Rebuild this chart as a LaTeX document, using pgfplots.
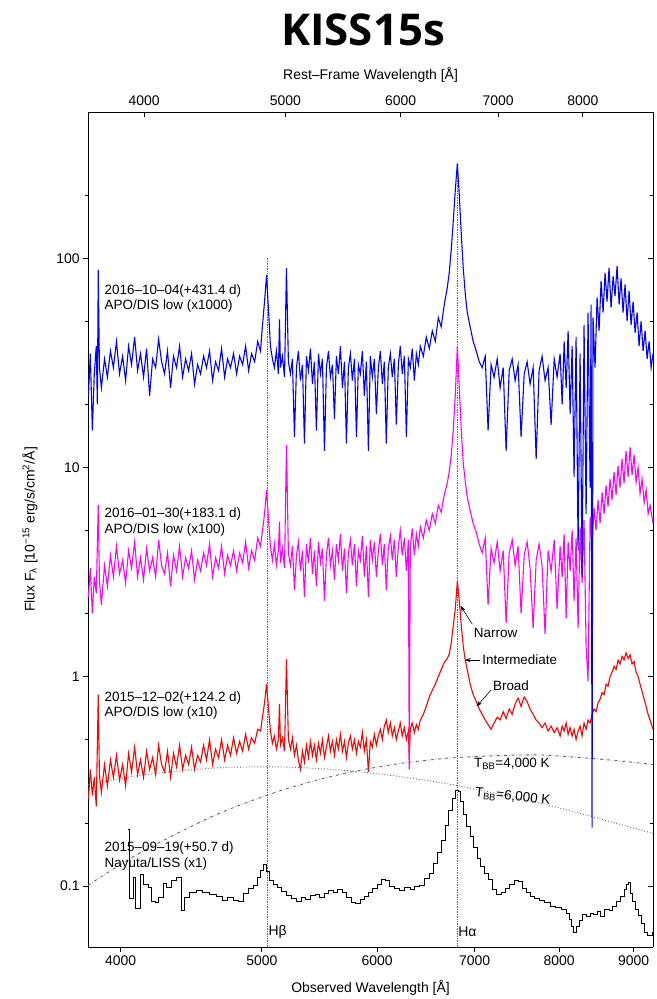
\documentclass[border=0pt]{standalone}
\usepackage{fontspec}
\setmainfont{Liberation Sans}
\newfontfamily\titlefont{Open Sans}
\usepackage{pgfplots}
\pgfplotsset{compat=1.18}
\usetikzlibrary{arrows.meta}

\definecolor{refgray}{RGB}{100,100,100}
\definecolor{specblue}{RGB}{0,0,255}
\definecolor{specmag}{RGB}{255,0,255}
\definecolor{specred}{RGB}{255,0,0}

\begin{document}
\begin{tikzpicture}
\begin{axis}[
    name=ax,
    scale only axis,
    width=565bp, height=835bp,
    xmode=log, ymode=log,
    xmin=3800, xmax=9280,
    ymin=0.051, ymax=500,
    axis x line*=bottom, axis y line*=left,
    axis line style={black, line width=0.8bp, -},
    xtick={4000,5000,6000,7000,8000,9000},
    xticklabels={4000,5000,6000,7000,8000,9000},
    minor xtick={},
    ytick={0.1,1,10,100},
    yticklabels={0.1,1,10,100},
    minor ytick={0.2,0.5,2,5,20,50,200},
    tick align=outside,
    major tick length=5bp, minor tick length=3bp,
    tick style={black, line width=0.6bp},
    tick label style={font=\fontsize{14}{16}\selectfont},
    label style={font=\fontsize{14}{16}\selectfont},
    /pgf/number format/assume math mode=true,
    xlabel={Observed Wavelength [Å]},
    ylabel={Flux F\textsubscript{λ} [10\textsuperscript{−15} erg/s/cm\textsuperscript{2}/Å]},
    xlabel style={at={(axis description cs:0.5,-0.049)}, anchor=center},
    ylabel style={at={(axis description cs:-0.103,0.5)}, anchor=center},
]
% line markers
\addplot[refgray, densely dotted, line width=0.7bp] coordinates {(5046,0.051) (5046,100)};
\addplot[refgray, densely dotted, line width=0.7bp] coordinates {(6812,0.051) (6812,250)};

% blackbody curves
\addplot[refgray, dotted, line width=0.9bp, smooth] coordinates {
(3800,0.304) (4132,0.338) (4649,0.366) (5165,0.370) (5682,0.357) (6198,0.334)
(6715,0.307) (7231,0.277) (7748,0.249) (8264,0.222) (8781,0.198) (9280,0.178)};
\addplot[refgray, dash dot, line width=0.9bp, smooth] coordinates {
(3800,0.1006) (4132,0.1448) (4649,0.2183) (5165,0.2868) (5682,0.3431) (6198,0.383)
(6715,0.4077) (7231,0.4187) (7748,0.4225) (8264,0.4105) (8781,0.3961) (9280,0.380)};

% 2015-09-19 Nayuta/LISS
\addplot[black, line width=1bp, const plot] coordinates {
(4045,0.185) (4059,0.087) (4081,0.110) (4095,0.078) (4128,0.113) (4149,0.101) (4181,0.098)
(4203,0.084) (4224,0.083) (4246,0.088) (4278,0.103) (4300,0.098) (4334,0.106) (4368,0.109)
(4402,0.076) (4425,0.088) (4460,0.093) (4508,0.095) (4556,0.093) (4604,0.091) (4652,0.089)
(4701,0.085) (4740,0.088) (4780,0.085) (4820,0.084) (4860,0.092) (4900,0.097) (4935,0.100)
(4965,0.109) (4990,0.118) (5010,0.126) (5035,0.117) (5060,0.106) (5090,0.101) (5125,0.098)
(5160,0.094) (5200,0.090) (5240,0.087) (5280,0.084) (5320,0.088) (5360,0.086) (5400,0.090)
(5440,0.091) (5480,0.088) (5520,0.092) (5560,0.095) (5600,0.093) (5640,0.096) (5680,0.093)
(5720,0.088) (5760,0.083) (5800,0.082) (5840,0.086) (5880,0.089) (5920,0.093) (5960,0.097)
(6000,0.101) (6040,0.107) (6080,0.106) (6120,0.099) (6170,0.097) (6220,0.095) (6270,0.098)
(6320,0.096) (6370,0.099) (6420,0.100) (6470,0.108) (6520,0.115) (6560,0.128) (6600,0.145)
(6640,0.165) (6680,0.195) (6720,0.228) (6760,0.262) (6790,0.287) (6820,0.282) (6850,0.252)
(6880,0.220) (6910,0.193) (6950,0.172) (6990,0.152) (7030,0.135) (7070,0.124) (7110,0.114)
(7150,0.107) (7200,0.096) (7250,0.091) (7300,0.093) (7350,0.097) (7400,0.102) (7450,0.106)
(7500,0.105) (7550,0.097) (7600,0.093) (7650,0.089) (7700,0.087) (7760,0.085) (7820,0.083)
(7890,0.080) (7960,0.079) (8030,0.077) (8090,0.074) (8130,0.069) (8160,0.064) (8180,0.060)
(8220,0.064) (8260,0.068) (8300,0.073) (8350,0.071) (8400,0.074) (8450,0.073) (8500,0.075)
(8540,0.071) (8600,0.077) (8660,0.076) (8710,0.080) (8760,0.084) (8820,0.089) (8870,0.096)
(8900,0.101) (8930,0.104) (8960,0.092) (8990,0.084) (9030,0.077) (9070,0.072) (9110,0.066)
(9150,0.060) (9200,0.058) (9265,0.060) (9280,0.060)};

% 2015-12-02 APO/DIS (x10)
\addplot[specred, line width=1.1bp] coordinates {
(3802,0.26) (3814,0.36) (3826,0.27) (3838,0.33) (3850,0.24) (3862,0.82) (3869,0.34) (3881,0.28)
(3900,0.38) (3918,0.30) (3937,0.40) (3956,0.33) (3975,0.42) (3994,0.32) (4013,0.38) (4032,0.30)
(4051,0.43) (4070,0.35) (4090,0.46) (4109,0.34) (4128,0.40) (4148,0.33) (4168,0.44) (4188,0.36)
(4208,0.41) (4228,0.34) (4248,0.47) (4268,0.38) (4288,0.35) (4308,0.44) (4329,0.33) (4349,0.43)
(4370,0.37) (4391,0.47) (4412,0.36) (4433,0.42) (4454,0.38) (4475,0.46) (4496,0.36) (4518,0.42)
(4539,0.39) (4561,0.47) (4582,0.40) (4604,0.50) (4626,0.38) (4648,0.45) (4670,0.41) (4692,0.50)
(4715,0.40) (4737,0.47) (4759,0.42) (4782,0.51) (4805,0.43) (4828,0.49) (4851,0.44) (4874,0.53)
(4897,0.45) (4920,0.51) (4944,0.48) (4968,0.56) (4990,0.55) (5006,0.64) (5022,0.75) (5038,0.92)
(5054,0.70) (5069,0.55) (5085,0.48) (5101,0.52) (5117,0.45) (5133,0.50) (5142,0.74) (5150,0.47)
(5166,0.51) (5183,0.44) (5199,1.21) (5215,0.50) (5232,0.45) (5248,0.51) (5265,0.42) (5282,0.47)
(5298,0.40) (5315,0.36) (5332,0.44) (5349,0.39) (5366,0.47) (5383,0.41) (5400,0.49) (5417,0.42)
(5434,0.47) (5451,0.40) (5469,0.48) (5486,0.43) (5503,0.50) (5521,0.41) (5538,0.46) (5556,0.52)
(5573,0.44) (5591,0.49) (5609,0.42) (5626,0.50) (5644,0.45) (5662,0.53) (5680,0.44) (5698,0.49)
(5716,0.41) (5734,0.48) (5752,0.52) (5770,0.45) (5789,0.50) (5807,0.43) (5825,0.49) (5843,0.46)
(5862,0.54) (5880,0.44) (5899,0.50) (5918,0.35) (5936,0.49) (5955,0.46) (5974,0.53) (5993,0.47)
(6012,0.52) (6031,0.56) (6050,0.50) (6069,0.58) (6088,0.62) (6107,0.54) (6127,0.60) (6146,0.52)
(6166,0.57) (6185,0.50) (6205,0.55) (6224,0.60) (6244,0.52) (6264,0.57) (6284,0.50) (6304,0.55)
(6313,0.40) (6323,0.56) (6343,0.60) (6364,0.54) (6384,0.59) (6404,0.56) (6424,0.62) (6455,0.66)
(6485,0.72) (6516,0.80) (6547,0.86) (6578,0.92) (6609,1.00) (6640,1.08) (6672,1.17) (6703,1.22)
(6724,1.28) (6746,1.45) (6767,1.75) (6789,2.10) (6811,2.85) (6832,2.30) (6854,1.75) (6875,1.40)
(6897,1.20) (6919,1.08) (6951,0.92) (6984,0.82) (7018,0.76) (7051,0.70) (7084,0.66) (7118,0.62)
(7151,0.59) (7185,0.56) (7219,0.60) (7254,0.64) (7288,0.62) (7323,0.68) (7357,0.63) (7393,0.70)
(7428,0.66) (7463,0.74) (7498,0.79) (7534,0.72) (7570,0.80) (7606,0.76) (7642,0.70) (7678,0.66)
(7715,0.62) (7751,0.60) (7788,0.57) (7825,0.60) (7863,0.55) (7900,0.58) (7938,0.54) (7975,0.57)
(8012,0.52) (8038,0.58) (8063,0.55) (8089,0.60) (8114,0.53) (8140,0.57) (8166,0.52) (8191,0.56)
(8217,0.50) (8243,0.55) (8269,0.58) (8295,0.52) (8321,0.60) (8348,0.56) (8374,0.62) (8401,0.60)
(8427,0.66) (8454,0.70) (8481,0.68) (8508,0.75) (8535,0.78) (8562,0.84) (8589,0.82) (8616,0.92)
(8643,0.90) (8670,1.00) (8698,1.05) (8726,1.12) (8753,1.08) (8781,1.20) (8808,1.15) (8836,1.25)
(8864,1.20) (8892,1.30) (8921,1.22) (8949,1.27) (8977,1.15) (9006,1.18) (9034,1.05) (9063,1.00)
(9091,0.92) (9120,0.85) (9150,0.78) (9179,0.72) (9208,0.66) (9236,0.62) (9280,0.56)};

% 2016-01-30 APO/DIS (x100)
\addplot[specmag, line width=1.1bp] coordinates {
(3802,2.4) (3814,3.3) (3826,2.0) (3838,3.0) (3850,2.5) (3862,6.6) (3869,2.9) (3881,2.2)
(3900,3.4) (3918,2.7) (3937,3.8) (3956,3.0) (3975,4.2) (3994,3.1) (4013,3.6) (4032,2.8)
(4051,4.0) (4070,3.3) (4090,4.4) (4109,3.0) (4128,3.7) (4148,2.9) (4168,4.1) (4188,3.2)
(4208,3.7) (4228,3.0) (4248,4.5) (4268,3.4) (4288,3.1) (4308,3.9) (4329,2.7) (4349,3.8)
(4370,3.2) (4391,4.2) (4412,3.0) (4433,3.7) (4454,3.3) (4475,4.0) (4496,2.9) (4518,3.6)
(4539,3.2) (4561,3.9) (4582,3.4) (4604,4.3) (4626,3.0) (4648,3.7) (4670,3.3) (4692,4.2)
(4715,3.1) (4737,3.8) (4759,3.4) (4782,4.0) (4805,3.2) (4828,3.9) (4851,3.5) (4874,4.4)
(4897,3.3) (4920,4.0) (4944,3.6) (4968,4.6) (4990,4.2) (5006,5.0) (5022,6.0) (5038,7.8)
(5054,5.6) (5069,4.2) (5085,3.6) (5101,4.3) (5117,3.4) (5133,4.0) (5142,5.5) (5150,3.5)
(5166,4.1) (5183,3.3) (5199,12.8) (5215,3.9) (5232,3.4) (5248,4.2) (5265,2.6) (5282,3.8)
(5298,4.4) (5315,3.2) (5332,4.0) (5349,2.4) (5366,4.3) (5383,3.5) (5400,4.6) (5417,3.1)
(5434,4.0) (5451,2.7) (5469,4.4) (5486,3.5) (5503,4.1) (5521,2.3) (5538,3.8) (5556,4.6)
(5573,3.4) (5591,4.0) (5609,2.9) (5626,4.3) (5644,3.6) (5662,4.8) (5680,3.2) (5698,4.1)
(5716,2.5) (5734,3.9) (5752,4.5) (5770,3.4) (5789,4.3) (5807,2.7) (5825,4.0) (5843,3.6)
(5862,4.7) (5880,3.0) (5899,4.2) (5918,2.4) (5936,4.5) (5955,3.6) (5974,4.4) (5993,3.0)
(6012,4.0) (6031,4.8) (6050,3.4) (6069,4.3) (6088,2.6) (6107,4.1) (6127,4.7) (6146,3.6)
(6166,4.5) (6185,3.0) (6205,4.2) (6224,5.0) (6244,3.8) (6264,4.6) (6284,3.2) (6304,4.5)
(6313,0.36) (6323,4.2) (6343,5.1) (6364,3.8) (6384,4.8) (6404,4.2) (6424,5.2) (6455,4.6)
(6485,5.6) (6516,5.0) (6547,6.0) (6578,5.4) (6609,6.6) (6640,6.1) (6672,7.4) (6703,8.4)
(6724,9.5) (6746,11.5) (6767,15) (6789,22) (6811,38) (6832,24) (6854,15) (6875,10.5)
(6897,8.6) (6919,7.2) (6951,6.2) (6984,5.4) (7018,4.9) (7051,4.3) (7084,3.9) (7118,4.6)
(7151,2.2) (7185,4.1) (7219,3.5) (7254,4.4) (7288,3.2) (7323,4.0) (7357,1.8) (7393,3.9)
(7428,4.5) (7463,3.4) (7498,4.2) (7534,2.0) (7570,3.8) (7606,4.4) (7642,3.3) (7678,1.7)
(7715,3.6) (7751,4.3) (7788,3.4) (7825,1.6) (7863,4.0) (7900,3.2) (7938,4.5) (7975,2.1)
(8012,4.2) (8038,3.0) (8063,4.8) (8089,1.9) (8114,4.4) (8140,3.2) (8166,5.0) (8191,2.3)
(8217,4.6) (8243,1.7) (8269,5.2) (8295,2.8) (8321,5.6) (8348,1.4) (8374,0.95) (8401,5.8)
(8427,4.2) (8454,6.4) (8481,5.0) (8508,7.0) (8535,5.4) (8562,7.6) (8589,6.0) (8616,8.2)
(8643,6.5) (8670,8.8) (8698,7.0) (8726,9.5) (8753,7.4) (8781,10.2) (8808,8.0) (8836,11.0)
(8864,8.4) (8892,12.0) (8921,9.0) (8949,12.5) (8977,9.2) (9006,11.5) (9034,8.5) (9063,10.0)
(9091,7.5) (9120,8.8) (9150,6.8) (9179,7.8) (9208,6.0) (9236,6.6) (9280,5.4)};

% 2016-10-04 APO/DIS (x1000)
\addplot[specblue, line width=1.1bp] coordinates {
(3802,22) (3814,35) (3826,15) (3838,28) (3850,38) (3856,20) (3862,88) (3869,30) (3881,24)
(3900,33) (3918,27) (3937,36) (3956,30) (3975,40) (3994,28) (4013,34) (4032,26) (4051,38)
(4070,31) (4090,42) (4109,29) (4128,35) (4148,27) (4168,37) (4188,22) (4208,33) (4228,30)
(4248,41) (4268,32) (4288,28) (4308,36) (4329,24) (4349,34) (4370,30) (4391,38) (4412,27)
(4433,33) (4454,29) (4475,35) (4496,25) (4518,31) (4539,28) (4561,34) (4582,30) (4604,36)
(4626,26) (4648,32) (4670,29) (4692,37) (4715,27) (4737,33) (4759,30) (4782,35) (4805,28)
(4828,34) (4851,31) (4874,38) (4897,29) (4920,35) (4944,32) (4968,40) (4990,36) (5006,48)
(5022,62) (5038,83) (5054,56) (5069,38) (5085,33) (5101,30) (5117,36) (5133,28) (5142,51)
(5150,30) (5166,34) (5183,27) (5199,90) (5215,32) (5232,28) (5248,33) (5265,14) (5282,30)
(5298,36) (5315,26) (5332,31) (5349,13) (5366,34) (5383,29) (5400,37) (5417,25) (5434,32)
(5451,15) (5469,35) (5486,28) (5503,33) (5521,12) (5538,30) (5556,36) (5573,27) (5591,31)
(5609,17) (5626,34) (5644,28) (5662,38) (5680,24) (5698,32) (5716,13) (5734,30) (5752,35)
(5770,26) (5789,33) (5807,14) (5825,31) (5843,28) (5862,36) (5880,22) (5899,32) (5918,12)
(5936,34) (5955,27) (5974,33) (5993,18) (6012,30) (6031,36) (6050,25) (6069,32) (6088,13)
(6107,30) (6127,35) (6146,27) (6166,33) (6185,16) (6205,31) (6224,38) (6244,28) (6264,34)
(6284,14) (6304,33) (6323,30) (6343,37) (6364,26) (6384,35) (6404,31) (6424,38) (6455,34)
(6485,42) (6516,37) (6547,45) (6578,40) (6609,52) (6640,47) (6672,60) (6703,72) (6724,85)
(6746,110) (6767,150) (6789,210) (6811,284) (6832,200) (6854,130) (6875,90) (6897,68)
(6919,55) (6951,47) (6984,40) (7018,36) (7051,32) (7084,30) (7118,34) (7151,15) (7185,31)
(7219,27) (7254,33) (7288,24) (7323,30) (7357,12) (7393,29) (7428,33) (7463,26) (7498,31)
(7534,14) (7570,28) (7606,32) (7642,25) (7678,30) (7715,11) (7751,29) (7788,34) (7825,26)
(7863,30) (7900,16) (7938,33) (7975,27) (8012,35) (8038,20) (8063,40) (8089,24) (8114,45)
(8140,18) (8166,38) (8191,9) (8217,42) (8243,4) (8269,35) (8295,3) (8321,48) (8348,6)
(8374,55) (8401,8) (8414,60) (8427,0.19) (8440,52) (8467,30) (8494,65) (8521,45) (8548,78)
(8575,55) (8602,85) (8629,62) (8656,90) (8684,58) (8712,82) (8739,66) (8767,92) (8795,60)
(8822,80) (8850,55) (8878,75) (8907,50) (8935,70) (8963,48) (8992,62) (9020,44) (9049,55)
(9077,38) (9106,50) (9135,36) (9164,45) (9193,33) (9222,40) (9251,30) (9280,35)};

% spectrum labels
\node[anchor=north west, align=left, inner sep=0pt, font=\fontsize{13.5}{15.5}\selectfont]
  at (axis cs:3900,75.2) {2016--10--04(+431.4 d)\\APO/DIS low (x1000)};
\node[anchor=north west, align=left, inner sep=0pt, font=\fontsize{13.5}{15.5}\selectfont]
  at (axis cs:3900,6.42) {2016--01--30(+183.1 d)\\APO/DIS low (x100)};
\node[anchor=north west, align=left, inner sep=0pt, font=\fontsize{13.5}{15.5}\selectfont]
  at (axis cs:3900,0.851) {2015--12--02(+124.2 d)\\APO/DIS low (x10)};
\node[anchor=north west, align=left, inner sep=0pt, font=\fontsize{13.5}{15.5}\selectfont]
  at (axis cs:3900,0.1622) {2015--09--19(+50.7 d)\\Nayuta/LISS (x1)};

% line ids
\node[anchor=west, inner sep=0pt, font=\fontsize{14}{16}\selectfont] at (axis cs:5052,0.0605) {Hβ};
\node[anchor=west, inner sep=0pt, font=\fontsize{14}{16}\selectfont] at (axis cs:6820,0.0605) {Hα};

% blackbody labels
\node[anchor=west, inner sep=0pt, font=\fontsize{13.5}{15.5}\selectfont] at (axis cs:6993,0.382) {T\textsubscript{BB}=4,000 K};
\node[anchor=west, inner sep=0pt, rotate=-6, font=\fontsize{13.5}{15.5}\selectfont] at (axis cs:7004,0.278) {T\textsubscript{BB}=6,000 K};

% component arrows
\draw[-{Stealth[length=6bp,width=4bp]}, line width=0.6bp] (axis cs:6975,1.78) -- (axis cs:6845,2.18);
\node[anchor=west, inner sep=0pt, font=\fontsize{13.5}{15.5}\selectfont] at (axis cs:6990,1.62) {Narrow};
\draw[-{Stealth[length=6bp,width=4bp]}, line width=0.6bp] (axis cs:7063,1.2) -- (axis cs:6891,1.2);
\node[anchor=west, inner sep=0pt, font=\fontsize{13.5}{15.5}\selectfont] at (axis cs:7084,1.2) {Intermediate};
\draw[-{Stealth[length=6bp,width=4bp]}, line width=0.6bp] (axis cs:7186,0.865) -- (axis cs:7022,0.72);
\node[anchor=west, inner sep=0pt, font=\fontsize{13.5}{15.5}\selectfont] at (axis cs:7205,0.91) {Broad};
\end{axis}

% rest-frame axis (top) and right frame
\begin{axis}[
    scale only axis,
    width=565bp, height=835bp,
    xmode=log, ymode=log,
    xmin=3661, xmax=8940,
    ymin=0.051, ymax=500,
    axis x line*=top, axis y line*=right,
    axis line style={black, line width=0.8bp, -},
    xtick={4000,5000,6000,7000,8000},
    xticklabels={4000,5000,6000,7000,8000},
    minor xtick={},
    ytick={0.1,1,10,100},
    yticklabels={},
    minor ytick={0.2,0.5,2,5,20,50,200},
    tick align=inside,
    major tick length=5bp, minor tick length=3bp,
    tick style={black, line width=0.6bp},
    tick label style={font=\fontsize{14}{16}\selectfont},
    label style={font=\fontsize{14}{16}\selectfont},
    xticklabel style={yshift=3bp},
    xlabel={Rest--Frame Wavelength [Å]},
    xlabel style={at={(axis description cs:0.5,1.044)}, anchor=center},
]
\end{axis}

\node[font=\titlefont\fontsize{44}{50}\selectfont\bfseries] at ([shift={(275bp,82bp)}]ax.north west) {KISS15s};

\pgfresetboundingbox
\path ([shift={(-88bp,-52bp)}]ax.south west) rectangle ([shift={(3bp,112bp)}]ax.north east);
\end{tikzpicture}
\end{document}
